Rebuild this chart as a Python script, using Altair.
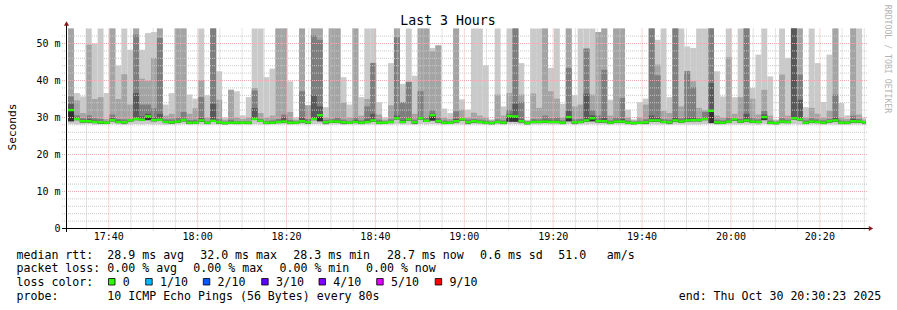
import altair as alt
import pandas as pd

# ---------------- data ----------------
# time axis: minutes after 17:00; the graph covers 17:30:23 .. 20:30:23
t_begin = 30 + 23 / 60
t_end = t_begin + 180
first_step = 30 + 50 / 60      # first 80 s step boundary
step_min = 80 / 60

# per-step ping values (ms): p9 = slowest ping ... p0 = fastest, med = median
p9 = [54.5, 36.6, 35.7, 54.5, 50.0, 54.5, 36.6, 54.5, 44.0, 54.5,
      48.3, 54.5, 48.3, 52.8, 53.1, 54.5, 33.5, 36.6, 54.5, 54.5,
      36.2, 35.1, 54.5, 36.0, 54.5, 42.5, 30.0, 37.5, 37.1, 30.6,
      35.5, 54.5, 54.5, 40.9, 43.2, 54.5, 54.5, 39.8, 30.0, 54.5,
      33.3, 54.5, 54.5, 32.8, 54.5, 54.5, 40.9, 33.5, 54.5, 35.5,
      54.5, 54.5, 34.1, 30.0, 44.7, 54.5, 39.1, 54.5, 41.3, 54.5,
      54.5, 48.8, 49.5, 32.4, 31.2, 54.5, 34.9, 32.1, 54.5, 54.5,
      44.1, 29.5, 54.5, 33.0, 54.5, 54.5, 44.7, 29.4, 54.5, 54.5,
      54.5, 43.4, 54.5, 33.7, 54.5, 36.0, 54.5, 54.5, 54.5, 53.1,
      54.5, 34.8, 54.5, 54.5, 32.1, 29.5, 34.1, 35.1, 54.5, 51.0,
      54.5, 35.5, 54.5, 54.5, 49.2, 48.8, 54.5, 54.5, 54.5, 42.5,
      35.7, 54.5, 35.5, 54.5, 54.5, 38.0, 47.0, 54.5, 41.1, 29.5,
      54.5, 46.1, 54.5, 54.5, 32.8, 54.5, 44.7, 34.2, 47.0, 54.5,
      33.9, 30.6, 54.5, 54.5, 30.0]
p8 = [54.5, 34.6, 31.2, 49.7, 35.0, 35.5, 29.6, 54.5, 35.0, 41.7,
      33.5, 54.5, 40.5, 40.0, 46.1, 54.5, 30.5, 31.0, 54.5, 54.5,
      31.0, 32.5, 40.1, 30.0, 54.5, 34.8, 29.4, 37.5, 30.0, 29.6,
      30.0, 38.0, 31.2, 30.0, 30.5, 54.5, 54.5, 31.5, 29.4, 54.5,
      33.3, 54.5, 54.5, 30.0, 54.5, 54.5, 34.0, 30.0, 54.5, 30.5,
      35.0, 44.8, 30.8, 29.4, 33.3, 54.5, 34.1, 39.7, 31.0, 54.5,
      54.5, 47.9, 49.5, 30.0, 29.6, 54.5, 32.1, 30.0, 31.3, 30.5,
      30.0, 29.2, 36.2, 30.5, 36.6, 54.5, 36.2, 29.1, 36.5, 32.6,
      54.5, 37.1, 35.1, 30.0, 54.5, 33.0, 33.5, 48.7, 36.2, 53.1,
      54.5, 30.5, 54.5, 54.5, 30.0, 29.2, 30.0, 33.5, 54.5, 44.3,
      31.8, 31.2, 54.5, 33.0, 42.6, 39.8, 32.6, 32.0, 54.5, 30.5,
      30.0, 46.3, 31.0, 35.5, 54.5, 35.1, 30.8, 37.5, 30.5, 29.2,
      41.6, 30.5, 54.5, 54.5, 30.0, 32.6, 31.0, 30.0, 31.8, 54.5,
      30.0, 29.6, 54.5, 30.8, 29.4]
p7 = [35.7, 30.6, 29.8, 30.6, 29.8, 29.6, 29.0, 30.8, 29.6, 29.5,
      29.6, 52.4, 33.5, 33.5, 32.5, 51.5, 29.5, 29.5, 30.0, 31.5,
      29.3, 29.4, 35.5, 29.0, 54.5, 29.6, 28.9, 29.4, 29.0, 29.0,
      29.0, 37.3, 29.6, 29.1, 29.2, 29.6, 30.8, 29.3, 29.0, 37.1,
      29.6, 52.2, 51.0, 29.3, 29.6, 30.0, 29.4, 29.0, 30.0, 29.2,
      33.0, 44.7, 29.4, 29.0, 29.5, 51.7, 34.1, 39.6, 29.4, 37.1,
      30.0, 32.0, 30.0, 29.2, 29.0, 31.7, 29.8, 29.4, 29.6, 29.4,
      29.2, 28.9, 29.5, 29.2, 32.1, 54.5, 34.2, 28.9, 29.6, 29.5,
      30.5, 29.8, 30.0, 29.2, 43.4, 29.5, 29.6, 48.6, 32.0, 30.5,
      42.9, 29.2, 30.0, 35.3, 29.2, 28.9, 29.1, 29.5, 54.5, 41.4,
      29.6, 29.4, 54.5, 29.8, 42.5, 38.2, 29.8, 31.5, 54.5, 29.4,
      29.2, 30.0, 29.8, 29.6, 54.5, 30.0, 29.5, 31.8, 29.2, 28.9,
      29.8, 29.4, 54.5, 41.6, 29.2, 29.8, 29.5, 29.2, 29.6, 36.2,
      29.2, 29.0, 30.5, 29.6, 29.0]
p6 = [33.7, 30.0, 29.4, 29.6, 29.2, 29.0, 28.8, 29.8, 29.2, 29.0,
      29.3, 36.6, 30.3, 31.0, 30.0, 31.0, 29.1, 29.0, 29.3, 29.6,
      28.9, 28.9, 29.8, 28.8, 33.7, 29.0, 28.7, 28.9, 28.8, 28.8,
      28.8, 32.6, 29.2, 28.8, 28.9, 29.1, 30.0, 28.9, 28.8, 30.0,
      29.0, 36.0, 33.0, 28.9, 29.1, 29.3, 29.0, 28.8, 29.3, 28.9,
      29.5, 31.0, 28.9, 28.8, 29.0, 30.5, 29.3, 30.0, 29.0, 30.0,
      29.4, 31.0, 29.4, 28.9, 28.8, 29.6, 29.6, 29.0, 29.2, 29.0,
      28.9, 28.7, 29.0, 28.9, 31.0, 33.7, 29.5, 28.7, 29.1, 29.0,
      29.4, 29.2, 29.2, 28.9, 31.8, 29.0, 29.1, 36.4, 30.6, 29.4,
      30.0, 28.9, 29.3, 29.6, 28.9, 28.7, 28.8, 29.0, 30.5, 30.0,
      29.1, 29.0, 30.0, 29.2, 30.0, 30.0, 29.4, 30.0, 39.3, 29.0,
      28.9, 29.3, 29.6, 29.1, 31.0, 29.3, 29.0, 30.8, 28.9, 28.7,
      29.2, 29.0, 54.5, 34.8, 28.9, 29.2, 29.0, 28.9, 29.1, 30.0,
      28.9, 28.8, 29.6, 29.1, 28.8]
med = [32.0, 29.6, 29.0, 29.0, 28.8, 28.7, 28.6, 29.3, 28.8, 28.7,
       29.2, 29.6, 29.4, 30.3, 29.3, 29.4, 28.8, 28.7, 28.9, 29.3,
       28.6, 28.6, 29.2, 28.6, 29.1, 28.7, 28.5, 28.6, 28.6, 28.6,
       28.6, 29.6, 29.1, 28.6, 28.6, 28.8, 28.9, 28.6, 28.6, 29.0,
       28.7, 29.6, 30.6, 28.7, 28.9, 28.9, 28.7, 28.6, 28.8, 28.6,
       28.8, 29.2, 28.6, 28.6, 28.8, 29.8, 28.8, 29.5, 28.7, 29.8,
       29.1, 30.6, 29.0, 28.6, 28.6, 29.0, 29.5, 28.7, 29.0, 28.8,
       28.6, 28.5, 28.8, 28.6, 30.4, 30.3, 29.0, 28.5, 28.8, 28.8,
       28.9, 28.8, 28.8, 28.6, 30.1, 28.7, 28.8, 29.2, 29.8, 29.0,
       29.0, 28.6, 28.9, 28.9, 28.6, 28.5, 28.6, 28.7, 29.2, 29.2,
       28.8, 28.7, 29.2, 28.9, 29.2, 29.3, 29.3, 29.6, 31.8, 28.7,
       28.6, 28.9, 29.5, 28.9, 29.2, 28.9, 28.8, 30.1, 28.6, 28.5,
       28.9, 28.8, 29.8, 29.5, 28.6, 28.9, 28.8, 28.6, 29.0, 29.2,
       28.6, 28.6, 29.0, 28.9, 28.7]
p4 = [29.0, 29.3, 28.7, 28.7, 28.5, 28.4, 28.3, 29.0, 28.5, 28.4,
      28.9, 29.3, 29.1, 29.3, 29.0, 29.1, 28.5, 28.4, 28.6, 29.0,
      28.3, 28.3, 28.9, 28.3, 28.8, 28.4, 28.2, 28.3, 28.3, 28.3,
      28.3, 29.3, 28.8, 28.3, 28.3, 28.5, 28.6, 28.3, 28.3, 28.7,
      28.4, 29.3, 29.0, 28.4, 28.6, 28.6, 28.4, 28.3, 28.5, 28.3,
      28.5, 28.9, 28.3, 28.3, 28.5, 29.5, 28.5, 29.2, 28.4, 29.5,
      28.8, 29.2, 28.7, 28.3, 28.3, 28.7, 29.2, 28.4, 28.7, 28.5,
      28.3, 28.2, 28.5, 28.3, 28.9, 28.9, 28.7, 28.2, 28.5, 28.5,
      28.6, 28.5, 28.5, 28.3, 29.0, 28.4, 28.5, 28.9, 29.0, 28.7,
      28.7, 28.3, 28.6, 28.6, 28.3, 28.2, 28.3, 28.4, 28.9, 28.9,
      28.5, 28.4, 28.9, 28.6, 28.9, 29.0, 29.0, 29.3, 28.5, 28.4,
      28.3, 28.6, 29.2, 28.6, 28.9, 28.6, 28.5, 29.3, 28.3, 28.2,
      28.6, 28.5, 29.5, 29.2, 28.3, 28.6, 28.5, 28.3, 28.7, 28.9,
      28.3, 28.3, 28.7, 28.6, 28.4]
p0 = [28.2, 28.1, 28.1, 28.2, 28.0, 28.1, 28.1, 28.2, 28.1, 28.0,
      28.1, 28.2, 28.1, 28.2, 28.1, 28.1, 28.0, 28.1, 28.1, 28.2,
      28.0, 28.1, 28.1, 28.0, 28.1, 28.1, 28.0, 28.1, 28.0, 28.1,
      28.0, 28.2, 28.1, 28.0, 28.1, 28.1, 28.1, 28.0, 28.1, 28.1,
      28.1, 28.2, 28.2, 28.0, 28.1, 28.1, 28.0, 28.1, 28.1, 28.0,
      28.1, 28.1, 28.0, 28.1, 28.1, 28.2, 28.1, 28.1, 28.0, 28.2,
      28.1, 28.2, 28.1, 28.0, 28.1, 28.1, 28.1, 28.0, 28.1, 28.1,
      28.0, 28.0, 28.1, 28.0, 28.2, 28.2, 28.1, 28.0, 28.1, 28.1,
      28.1, 28.1, 28.1, 28.0, 28.2, 28.0, 28.1, 28.1, 28.2, 28.1,
      28.1, 28.0, 28.1, 28.1, 28.0, 28.0, 28.1, 28.0, 28.1, 28.1,
      28.1, 28.0, 28.1, 28.1, 28.1, 28.1, 28.1, 28.2, 28.2, 28.0,
      28.0, 28.1, 28.1, 28.1, 28.1, 28.1, 28.0, 28.2, 28.0, 28.0,
      28.1, 28.1, 28.2, 28.1, 28.0, 28.1, 28.1, 28.0, 28.1, 28.1,
      28.0, 28.0, 28.1, 28.1, 28.0]

smoke_grays = ["#cacaca", "#a4a4a4", "#7e7e7e", "#585858", "#323232"]
median_green = "#26ff00"

y_ticks = [0, 10, 20, 30, 40, 50]
y_tick_labels = ["0", "10 m", "20 m", "30 m", "40 m", "50 m"]
y_minor = [2, 4, 6, 8, 12, 14, 16, 18, 22, 24, 26, 28, 32, 34, 36, 38,
           42, 44, 46, 48, 52]
x_ticks = [40, 60, 80, 100, 120, 140, 160, 180, 200]
x_tick_labels = ["17:40", "18:00", "18:20", "18:40", "19:00", "19:20",
                 "19:40", "20:00", "20:20"]
x_minor = [35, 45, 50, 55, 65, 70, 75, 85, 90, 95, 105, 110, 115, 125,
           130, 135, 145, 150, 155, 165, 170, 175, 185, 190, 195, 205, 210]

title_text = "Last 3 Hours"
y_title = "Seconds"
watermark = "RRDTOOL / TOBI OETIKER"
line1 = ["median rtt:", "28.9 ms avg", "32.0 ms max", "28.3 ms min",
         "28.7 ms now", "0.6 ms sd", "51.0", "am/s"]
line2 = ["packet loss:", "0.00 % avg", "0.00 % max", "0.00 % min", "0.00 % now"]
loss_title = "loss color:"
loss_labels = ["0", "1/10", "2/10", "3/10", "4/10", "5/10", "9/10"]
loss_colors = ["#26ff00", "#00b8ff", "#0059ff", "#5e00ff", "#7e00ff",
               "#dd00ff", "#ff0000"]
probe_label = "probe:"
probe_text = "10 ICMP Echo Pings (56 Bytes) every 80s"
end_text = "end: Thu Oct 30 20:30:23 2025"

# ---------------- layout (pixels) ----------------
W, H = 897, 310
PX0, PX1 = 66, 866          # plot area left/right
PY0, PY1 = 228.5, 28.5      # plot area bottom/top
Y_MAX = 200 / 3.7
MONO = "DejaVu Sans Mono"
line1_x = [16.5, 107.3, 200.2, 293.3, 387.0, 480.0, 558.3, 606.7]
line2_x = [16.5, 107.3, 193.3, 279.5, 366.0]
box_x = [108.5, 145.7, 203.3, 261.7, 319.0, 376.7, 435.2]
lines_y = [258.6, 272.4, 286.3, 300.2]

xs = alt.Scale(domain=[t_begin, t_end], range=[PX0, PX1], clamp=True)
ys = alt.Scale(domain=[0, Y_MAX], range=[PY0, PY1], clamp=True)


def X(f):
    return alt.X(f, type="quantitative", scale=xs, axis=None)


def Y(f):
    return alt.Y(f, type="quantitative", scale=ys, axis=None)


n = len(med)
df = pd.DataFrame({
    "t0": [first_step + k * step_min for k in range(n)],
    "t1": [first_step + (k + 1) * step_min for k in range(n)],
    "p0": p0, "p4": p4, "p6": p6, "p7": p7, "p8": p8, "p9": p9, "med": med,
})

layers = []
# smoke: outer band first, darker inner bands on top
bands = [("p0", "p9"), ("p4", "p8"), ("p4", "p7"), ("p4", "p6"), ("p4", "med")]
for (lo, hi), col in zip(bands, smoke_grays):
    layers.append(alt.Chart(df).mark_rect(color=col, strokeWidth=0).encode(
        x=X("t0"), x2="t1", y=Y(lo), y2=hi))

# grid (dotted, drawn over the smoke like rrdtool does)
MINOR_C, MAJOR_C = "#c8c8c8", "#f0aaaa"
gmin_h = pd.DataFrame({"v": y_minor})
gmaj_h = pd.DataFrame({"v": y_ticks[1:]})
gmin_v = pd.DataFrame({"v": x_minor})
gmaj_v = pd.DataFrame({"v": x_ticks})
layers.append(alt.Chart(gmin_h).mark_rule(color=MINOR_C, strokeDash=[1, 1], strokeWidth=1).encode(
    y=Y("v"), x=alt.value(62), x2=alt.value(PX1 + 1)))
layers.append(alt.Chart(gmin_v).mark_rule(color=MINOR_C, strokeDash=[1, 1], strokeWidth=1).encode(
    x=X("v"), y=alt.value(PY1), y2=alt.value(231)))
layers.append(alt.Chart(gmaj_h).mark_rule(color=MAJOR_C, strokeDash=[1, 1], strokeWidth=1).encode(
    y=Y("v"), x=alt.value(62), x2=alt.value(PX1 + 1)))
layers.append(alt.Chart(gmaj_v).mark_rule(color=MAJOR_C, strokeDash=[1, 1], strokeWidth=1).encode(
    x=X("v"), y=alt.value(PY1), y2=alt.value(231)))

# median
layers.append(alt.Chart(df).mark_rule(color=median_green, strokeWidth=2.4).encode(
    x=X("t0"), x2="t1", y=Y("med")))

# axes
layers.append(alt.Chart(pd.DataFrame({"v": [0]})).mark_rule(color="#000000", strokeWidth=1).encode(
    y=Y("v"), x=alt.value(62), x2=alt.value(869)))
layers.append(alt.Chart(pd.DataFrame({"v": [t_begin]})).mark_rule(color="#000000", strokeWidth=1).encode(
    x=alt.value(66.5), y=alt.value(232), y2=alt.value(24)))
layers.append(alt.Chart(pd.DataFrame({"v": [0]})).mark_point(
    shape="triangle-up", filled=True, color="#8b1a1a", size=26, opacity=1).encode(
    x=alt.value(66.5), y=alt.value(23.5)))
layers.append(alt.Chart(pd.DataFrame({"v": [0]})).mark_point(
    shape="triangle-right", filled=True, color="#8b1a1a", size=26, opacity=1).encode(
    x=alt.value(871), y=alt.value(228.5)))

# axis labels
ylab = pd.DataFrame({"v": y_ticks, "s": y_tick_labels})
layers.append(alt.Chart(ylab).mark_text(font=MONO, fontSize=10, align="right",
                                        baseline="alphabetic", dy=3.4, color="#000000").encode(
    y=Y("v"), x=alt.value(60.5), text="s:N"))
xlab = pd.DataFrame({"v": x_ticks, "s": x_tick_labels})
layers.append(alt.Chart(xlab).mark_text(font=MONO, fontSize=10, align="center",
                                        baseline="alphabetic", color="#000000").encode(
    x=X("v"), y=alt.value(240.3), text="s:N"))


def text(s, x, y, size=11.6, align="left", angle=0, color="#000000"):
    return alt.Chart(pd.DataFrame({"s": [s]})).mark_text(
        font=MONO, fontSize=size, align=align, baseline="alphabetic",
        angle=angle, color=color).encode(x=alt.value(x), y=alt.value(y), text="s:N")


layers.append(text(title_text, 448, 24.5, size=13.2, align="center"))
layers.append(text(y_title, 15.5, 127, size=11.2, align="center", angle=270))
layers.append(text(watermark, 885, 59, size=8.2, align="center", angle=90, color="#b4b4b4"))

for s, x in zip(line1, line1_x):
    layers.append(text(s, x, lines_y[0]))
for s, x in zip(line2, line2_x):
    layers.append(text(s, x, lines_y[1]))
layers.append(text(loss_title, 16.5, lines_y[2]))
for lab, col, bx in zip(loss_labels, loss_colors, box_x):
    layers.append(alt.Chart(pd.DataFrame({"s": [lab]})).mark_rect(
        color=col, stroke="#000000", strokeWidth=0.8).encode(
        x=alt.value(bx), x2=alt.value(bx + 6.5),
        y=alt.value(lines_y[2] - 7.8), y2=alt.value(lines_y[2] - 1.3)))
    layers.append(text(lab, bx + 14.3, lines_y[2]))
layers.append(text(probe_label, 16.5, lines_y[3]))
layers.append(text(probe_text, 107.3, lines_y[3]))
layers.append(text(end_text, 678.7, lines_y[3]))

chart = alt.layer(*layers).properties(
    width=W, height=H, padding=0,
    autosize=alt.AutoSizeParams(type="none"),
    background="#ffffff",
).configure_view(strokeWidth=0)

chart.save("out.html", embed_options={"renderer": "svg", "actions": False})
